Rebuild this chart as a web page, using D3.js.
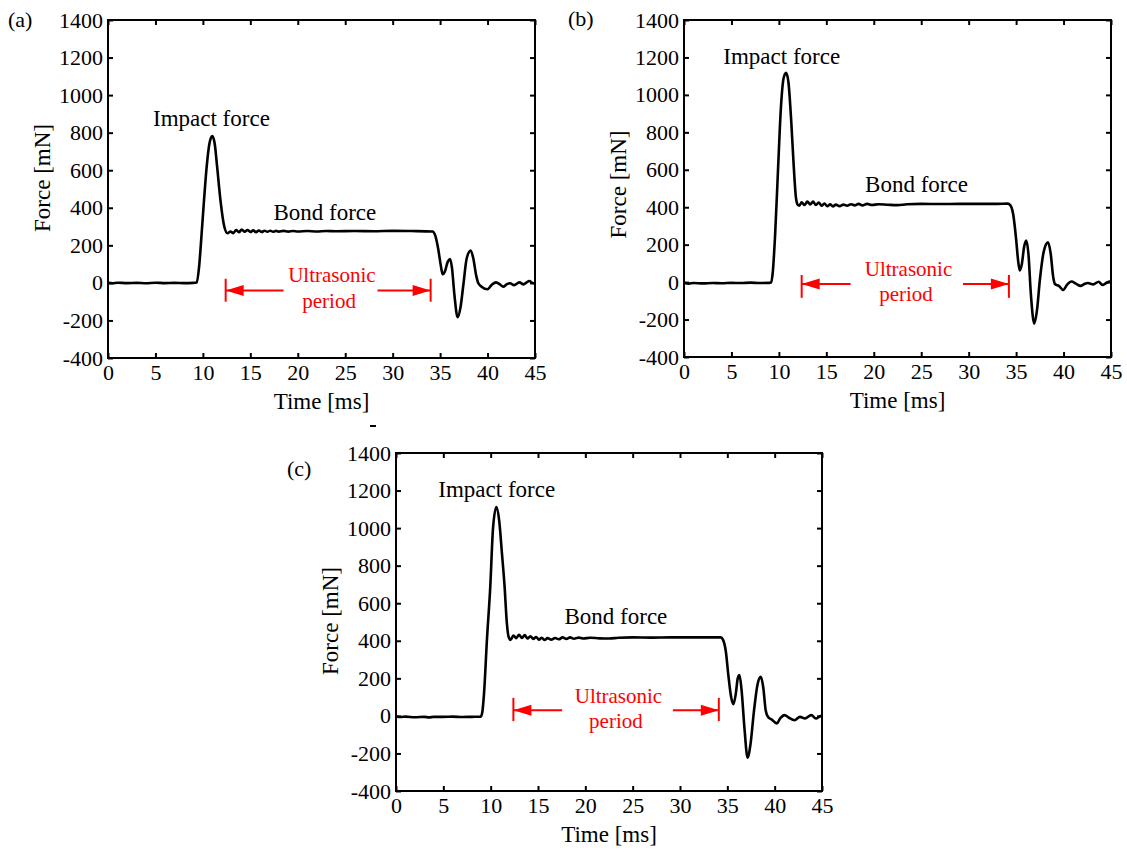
<!DOCTYPE html>
<html>
<head>
<meta charset="utf-8">
<script src="https://cdn.jsdelivr.net/npm/d3@7"></script>
<style>
  body { margin: 0; background: #fff; }
  svg { font-family: "Liberation Serif", "Times New Roman", serif; }
</style>
</head>
<body>
<svg id="chart" width="1127" height="855"></svg>
<script>
// axis ticks shared by all three panels
var xTicks = [0, 5, 10, 15, 20, 25, 30, 35, 40, 45];
var yTicks = [-400, -200, 0, 200, 400, 600, 800, 1000, 1200, 1400];

// panel (a)
var timeA = [0, 0.5, 1, 2, 3, 4, 5, 6, 7, 8, 9, 9.35, 9.6, 9.87, 10.12, 10.4, 10.7, 10.99, 11.25, 11.5, 11.85, 12.26, 12.6,
  12.9, 13.2, 13.5, 13.8, 14.1, 14.4, 14.7, 15.0, 15.3, 15.6, 15.9, 16.2, 16.5, 16.8, 17.1, 17.4, 17.7, 18.0, 18.5, 19, 19.5,
  20, 21, 22, 23, 24, 26, 28, 30, 32, 34.2, 34.5, 34.8, 35.05, 35.27, 35.5, 35.8, 36.04, 36.25, 36.5, 36.85, 37.15, 37.45,
  37.8, 38.22, 38.5, 38.8, 39.03, 39.37, 39.99, 40.45, 40.89, 41.3, 41.66, 42.0, 42.37, 42.8, 43.35, 43.8, 44.1, 44.4, 44.8, 45];
var forceA = [0, -2, 1, -1, 0, -2, 1, -1, 0, -1, 0, 2, 86, 264, 441, 619, 745, 782, 740, 619, 441, 299, 264,
  274, 265, 281, 270, 284, 272, 282, 271, 280, 270, 279, 271, 278, 272, 278, 272, 277, 273, 277, 273, 276,
  274, 276, 274, 276, 275, 276, 275, 277, 276, 274, 250, 180, 100, 46, 60, 112, 127, 80, -60, -183, -130, -10,
  130, 172, 130, 40, -2, -20, -34, -10, 3, -8, -20, -8, -2, -12, 3, -8, 2, 10, -2, 0];

// panel (b)
var timeB = [0, 0.5, 1, 2, 3, 4, 5, 6, 7, 8, 9, 9.16, 9.35, 9.6, 9.92, 10.2, 10.5, 10.76, 11.0, 11.3, 11.57, 11.8, 12.0, 12.15,
  12.4, 12.7, 13.0, 13.3, 13.6, 13.9, 14.2, 14.5, 14.8, 15.1, 15.4, 15.7, 16.0, 16.4, 16.8, 17.2, 17.6, 18.0, 18.4, 18.8, 19.3,
  19.8, 20.5, 21.5, 22.5, 23.5, 25, 27, 29, 31, 33, 34.1, 34.4, 34.7, 35.0, 35.2, 35.38, 35.6, 35.85, 36.07, 36.3, 36.55,
  36.91, 37.2, 37.5, 37.9, 38.36, 38.65, 38.9, 39.12, 39.5, 39.96, 40.4, 40.84, 41.3, 41.79, 42.2, 42.56, 43.13, 43.7,
  44.1, 44.5, 44.85, 45];
var forceB = [-3, -8, -5, -7, -5, -6, -4, -5, -3, -5, -4, -2, 50, 250, 614, 920, 1090, 1118, 1070, 860, 614, 450, 412, 408,
  426, 412, 430, 415, 430, 412, 425, 408, 420, 405, 415, 404, 414, 406, 414, 408, 416, 410, 418, 410, 418,
  412, 416, 413, 411, 416, 418, 417, 418, 418, 418, 419, 410, 360, 230, 120, 62, 95, 190, 222, 150, -60,
  -222, -150, 10, 160, 212, 150, 30, -12, -20, -42, -12, 3, -8, -20, -10, -5, -12, 2,
  -15, -5, 3, 0];

// panel (c)
var timeC = [0, 0.5, 1, 2, 3, 3.5, 4, 5, 6, 7, 8, 8.95, 9.1, 9.3, 9.6, 9.96, 10.25, 10.6, 10.9, 11.2, 11.47, 11.7, 11.9, 12.1,
  12.4, 12.7, 13.0, 13.3, 13.6, 13.9, 14.2, 14.5, 14.8, 15.1, 15.4, 15.7, 16.0, 16.4, 16.8, 17.2, 17.6, 18.0, 18.4, 18.8, 19.3,
  19.8, 20.5, 21.5, 22.5, 23.5, 25, 27, 29, 31, 33, 34.3, 34.55, 34.85, 35.1, 35.4, 35.64, 35.9, 36.1, 36.28, 36.5, 36.8,
  37.14, 37.45, 37.8, 38.2, 38.53, 38.8, 39.05, 39.29, 39.7, 40.22, 40.6, 41.05, 41.5, 42.1, 42.67, 43.2, 43.87, 44.36,
  44.9, 45];
var forceC = [-3, -6, -4, -7, -5, -8, -5, -5, -4, -6, -5, -4, 15, 120, 400, 690, 1000, 1112, 1040, 860, 690, 500, 420, 405,
  428, 414, 432, 415, 430, 412, 424, 410, 420, 406, 416, 404, 414, 406, 415, 408, 418, 410, 418, 411, 417,
  412, 416, 413, 412, 416, 418, 417, 418, 418, 418, 418, 405, 340, 220, 100, 62, 120, 200, 217, 140, -60,
  -222, -150, 20, 170, 208, 150, 30, -5, -20, -40, -12, 4, -10, -23, -5, -14, 4, -14,
  0, -2];

var svg = d3.select("#chart");
var red = "#ff0000";

function fmt(d) {
    return d < 0 ? "-" + Math.abs(d) : String(d);
}

function drawPanel(p) {
    var x = d3.scaleLinear().domain([0, 45]).range([p.left, p.left + p.width]);
    var y = d3.scaleLinear().domain([-400, 1400]).range([p.top + p.height, p.top]);

    var g = svg.append("g");

    // inward ticks on all four sides
    var bottom = g.append("g")
        .attr("transform", "translate(0," + (p.top + p.height) + ")")
        .call(d3.axisBottom(x).tickValues(xTicks).tickSizeInner(-5).tickSizeOuter(0).tickPadding(6).tickFormat(fmt));
    var left = g.append("g")
        .attr("transform", "translate(" + p.left + ",0)")
        .call(d3.axisLeft(y).tickValues(yTicks).tickSizeInner(-5).tickSizeOuter(0).tickPadding(5).tickFormat(fmt));
    var top = g.append("g")
        .attr("transform", "translate(0," + p.top + ")")
        .call(d3.axisTop(x).tickValues(xTicks).tickSizeInner(-5).tickSizeOuter(0).tickFormat(""));
    var right = g.append("g")
        .attr("transform", "translate(" + (p.left + p.width) + ",0)")
        .call(d3.axisRight(y).tickValues(yTicks).tickSizeInner(-5).tickSizeOuter(0).tickFormat(""));

    [bottom, left, top, right].forEach(function(a) {
        a.select(".domain").remove();
        a.selectAll("line").attr("stroke", "#000").attr("stroke-width", 2);
        a.selectAll("text").attr("fill", "#000").style("font-size", "22px")
         .style("font-family", "'Liberation Serif', serif");
    });

    // frame
    g.append("rect")
        .attr("x", x(0)).attr("y", y(1400))
        .attr("width", x(45) - x(0)).attr("height", y(-400) - y(1400))
        .attr("fill", "none").attr("stroke", "#000").attr("stroke-width", 2);

    var pts = p.time.map(function(t, i) { return [t, p.force[i]]; });
    var line = d3.line()
        .x(function(d) { return x(d[0]); })
        .y(function(d) { return y(d[1]); })
        .curve(d3.curveMonotoneX);

    g.append("path")
        .datum(pts)
        .attr("d", line)
        .attr("fill", "none")
        .attr("stroke", "#000")
        .attr("stroke-width", 2.6)
        .attr("stroke-linejoin", "round");

    // axis titles
    g.append("text")
        .attr("x", (x(0) + x(45)) / 2)
        .attr("y", p.top + p.height + 43)
        .attr("dy", "0.35em")
        .attr("text-anchor", "middle")
        .style("font-size", "23px")
        .text("Time [ms]");
    g.append("text")
        .attr("transform", "translate(" + (p.left - 66) + "," + (p.top + p.height / 2 - p.yShift) + ") rotate(-90)")
        .attr("dy", "0.35em")
        .attr("text-anchor", "middle")
        .style("font-size", "23px")
        .text("Force [mN]");

    // panel letter
    g.append("text")
        .attr("x", p.labelX).attr("y", p.labelY)
        .attr("dy", "0.35em")
        .style("font-size", "22px")
        .text(p.label);

    // annotations
    g.append("text")
        .attr("x", x(p.impact[0])).attr("y", y(p.impact[1]))
        .attr("dy", "0.35em").attr("text-anchor", "middle")
        .style("font-size", "23px")
        .text("Impact force");
    g.append("text")
        .attr("x", x(p.bond[0])).attr("y", y(p.bond[1]))
        .attr("dy", "0.35em").attr("text-anchor", "middle")
        .style("font-size", "23px")
        .text("Bond force");

    var us = p.ultra;
    g.append("text")
        .attr("x", x(us.textT)).attr("y", y(us.line1))
        .attr("dy", "0.35em").attr("text-anchor", "middle")
        .attr("fill", red).style("font-size", "21px")
        .text("Ultrasonic");
    g.append("text")
        .attr("x", x(us.textT2)).attr("y", y(us.line2))
        .attr("dy", "0.35em").attr("text-anchor", "middle")
        .attr("fill", red).style("font-size", "21px")
        .text("period");

    var ay = y(us.arrowY);
    [us.start, us.end].forEach(function(t) {
        g.append("line")
            .attr("x1", x(t)).attr("x2", x(t))
            .attr("y1", y(us.barTop)).attr("y2", y(us.barBottom))
            .attr("stroke", red).attr("stroke-width", 2);
    });
    g.append("line")
        .attr("x1", x(us.start)).attr("x2", x(us.leftEnd))
        .attr("y1", ay).attr("y2", ay)
        .attr("stroke", red).attr("stroke-width", 2);
    g.append("line")
        .attr("x1", x(us.rightStart)).attr("x2", x(us.end))
        .attr("y1", ay).attr("y2", ay)
        .attr("stroke", red).attr("stroke-width", 2);
    var hl = 18, hh = 5.5;
    g.append("path")
        .attr("d", "M" + x(us.start) + "," + ay + "L" + (x(us.start) + hl) + "," + (ay - hh) +
                   "L" + (x(us.start) + hl) + "," + (ay + hh) + "Z")
        .attr("fill", red);
    g.append("path")
        .attr("d", "M" + x(us.end) + "," + ay + "L" + (x(us.end) - hl) + "," + (ay - hh) +
                   "L" + (x(us.end) - hl) + "," + (ay + hh) + "Z")
        .attr("fill", red);
}

drawPanel({
    left: 108, top: 20, width: 427, height: 338, yShift: 11,
    time: timeA, force: forceA,
    label: "(a)", labelX: 8, labelY: 19,
    impact: [10.9, 880], bond: [22.85, 377],
    ultra: { start: 12.4, end: 34.0, leftEnd: 18.5, rightStart: 28.4, arrowY: -40, barTop: 22, barBottom: -100,
             textT: 23.6, line1: 42, textT2: 23.3, line2: -92 }
});

drawPanel({
    left: 684, top: 20, width: 427, height: 337, yShift: 4,
    time: timeB, force: forceB,
    label: "(b)", labelX: 568, labelY: 18,
    impact: [10.3, 1208], bond: [24.5, 526],
    ultra: { start: 12.4, end: 34.24, leftEnd: 17.56, rightStart: 29.4, arrowY: -10, barTop: 38, barBottom: -84,
             textT: 23.66, line1: 74, textT2: 23.4, line2: -60 }
});

drawPanel({
    left: 396, top: 453, width: 426, height: 338, yShift: 1,
    time: timeC, force: forceC,
    label: "(c)", labelX: 287, labelY: 468,
    impact: [10.64, 1210], bond: [23.23, 532],
    ultra: { start: 12.4, end: 34.1, leftEnd: 17.55, rightStart: 29.25, arrowY: 30, barTop: 96, barBottom: -28,
             textT: 23.5, line1: 110, textT2: 23.23, line2: -24 }
});

// small stray dash above panel (c)
svg.append("line")
    .attr("x1", 370).attr("x2", 376)
    .attr("y1", 426).attr("y2", 426)
    .attr("stroke", "#000").attr("stroke-width", 2);
</script>
</body>
</html>
